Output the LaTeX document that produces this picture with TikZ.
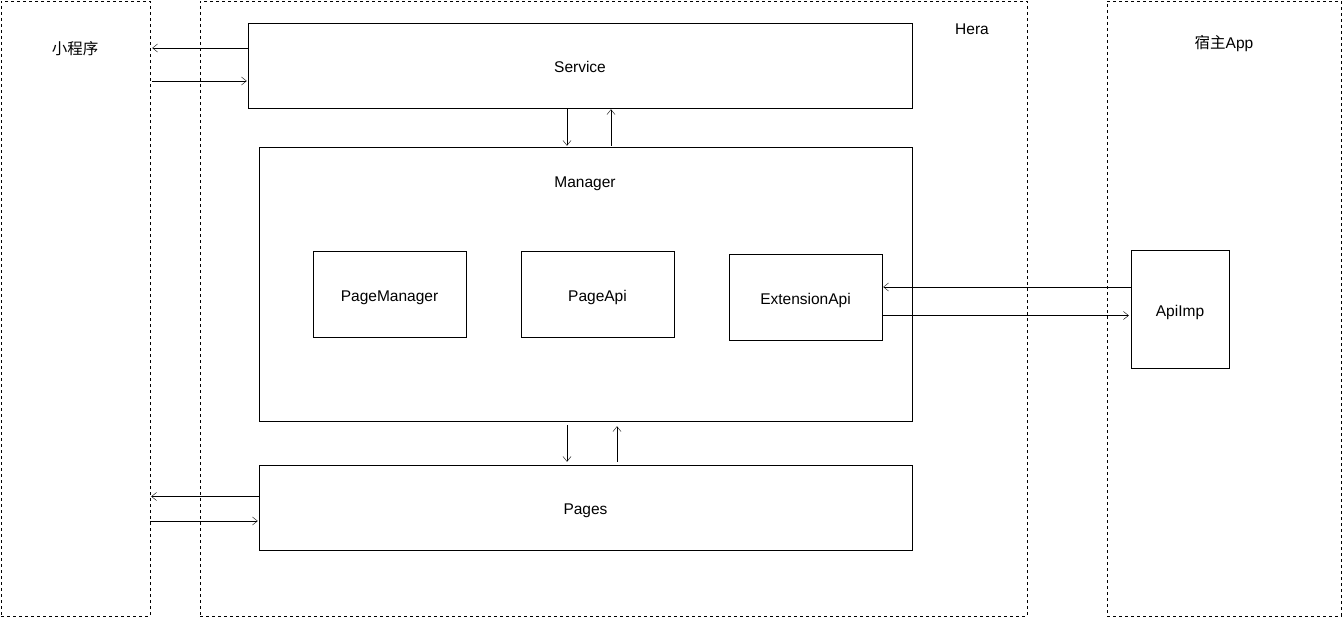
\documentclass[tikz,border=0pt]{standalone}
\usepackage{fontspec}
\setmainfont{Liberation Sans}
\newfontfamily\cjk{Noto Sans CJK SC}
\usetikzlibrary{arrows.meta}

\begin{document}
\begin{tikzpicture}[
    x=1pt,y=-1pt,
    >={Straight Barb[length=5pt,width=8pt]},
    every node/.style={font=\fontsize{15.5}{18}\selectfont,text height=15pt,text depth=0.3pt},
    zone/.style={draw=black,dashed,dash pattern=on 3pt off 3pt,thin,minimum width=#1,minimum height=615pt,inner sep=0pt},
    blk/.style={draw=black,thin,fill=white,minimum width=#1,inner sep=0pt},
    link/.style={draw=black,thin,->},
]
    \useasboundingbox (0,0) rectangle (1343,618);
    % outer zones
    \node[zone=149pt] (mini) at (75.5,308.5) {};
    \node[zone=827pt] (hera) at (613.5,308.5) {};
    \node[zone=234pt] (host) at (1224,308.5) {};
    \node (minilabel) at (75,47) {\cjk 小程序};
    \node (heralabel) at (972,27) {Hera};
    \node (hostlabel) at (1224,41) {{\cjk 宿主}App};
    % hera blocks
    \node[blk=664pt,minimum height=85pt] (service) at (580,65.5) {Service};
    \node[blk=653pt,minimum height=274pt] (manager) at (585.5,284) {};
    \node (managerlabel) at (585,180) {Manager};
    \node[blk=153pt,minimum height=86pt] (pagemgr) at (389.5,294) {PageManager};
    \node[blk=153pt,minimum height=86pt] (pageapi) at (597.5,294) {PageApi};
    \node[blk=153pt,minimum height=86pt] (extapi) at (805.5,297) {ExtensionApi};
    \node[blk=653pt,minimum height=85pt] (pages) at (585.5,507.5) {Pages};
    \node[blk=98pt,minimum height=118pt] (apiimp) at (1180,309) {ApiImp};
    % connectors
    \draw[link,shorten >=2pt] ([yshift=17.5pt]service.west) -- ([yshift=17.5pt]service.west -| mini.east);
    \draw[link,shorten <=2pt,shorten >=1pt] ([yshift=-15.5pt]service.west -| mini.east) -- ([yshift=-15.5pt]service.west);
    \draw[link,shorten <=1pt,shorten >=1pt] ([xshift=-13pt]service.south) -- ([xshift=-13pt]service.south |- manager.north);
    \draw[link,shorten <=1pt,shorten >=1pt] ([xshift=31pt]service.south |- manager.north) -- ([xshift=31pt]service.south);
    \draw[link,shorten <=4pt,shorten >=3pt] ([xshift=-18.5pt]manager.south) -- ([xshift=-18.5pt]manager.south |- pages.north);
    \draw[link,shorten <=3pt,shorten >=5pt] ([xshift=31.5pt]manager.south |- pages.north) -- ([xshift=31.5pt]manager.south);
    \draw[link,shorten >=1pt] ([yshift=11pt]pages.west) -- ([yshift=11pt]pages.west -| mini.east);
    \draw[link,shorten >=1pt] ([yshift=-13.5pt]pages.west -| mini.east) -- ([yshift=-13.5pt]pages.west);
    \draw[link,shorten >=1pt] ([yshift=22pt]apiimp.west) -- ([yshift=22pt]apiimp.west -| extapi.east);
    \draw[link,shorten >=2pt] ([yshift=-6.5pt]apiimp.west -| extapi.east) -- ([yshift=-6.5pt]apiimp.west);
\end{tikzpicture}
\end{document}
